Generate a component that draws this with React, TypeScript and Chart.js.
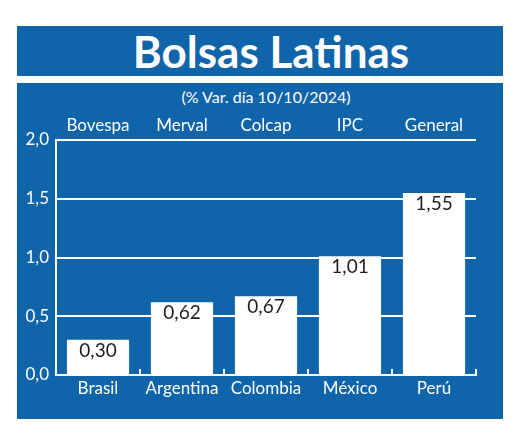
import { useEffect, useRef } from 'react';
import { Chart, registerables } from 'chart.js';

Chart.register(...registerables);

const countries = ['Brasil', 'Argentina', 'Colombia', 'México', 'Perú'];
const indices = ['Bovespa', 'Merval', 'Colcap', 'IPC', 'General'];
const values = [0.3, 0.62, 0.67, 1.01, 1.55];

const BLUE = '#1064aa';
const FONT = 'Lato, "Open Sans", sans-serif';

const fmt = (v: number, d: number) => v.toFixed(d).replace('.', ',');

// draws the value inside the top of each bar
const valueLabels = {
  id: 'valueLabels',
  afterDatasetsDraw(chart: Chart) {
    const ctx = chart.ctx;
    const meta = chart.getDatasetMeta(0);
    ctx.save();
    ctx.fillStyle = '#1e1e1e';
    ctx.font = '19px ' + FONT;
    ctx.textAlign = 'center';
    ctx.textBaseline = 'middle';
    meta.data.forEach((bar: any, i: number) => {
      ctx.fillText(fmt(values[i], 2), bar.x, bar.y + 11);
    });
    ctx.restore();
  },
};

export default function App() {
  const chartRef = useRef<HTMLCanvasElement>(null);
  const chartInstance = useRef<Chart | null>(null);

  useEffect(() => {
    if (!chartRef.current) return;
    if (chartInstance.current) chartInstance.current.destroy();

    chartInstance.current = new Chart(chartRef.current, {
      type: 'bar',
      data: {
        labels: countries,
        datasets: [
          {
            data: values,
            backgroundColor: '#ffffff',
            borderWidth: 0,
            barPercentage: 0.74,
            categoryPercentage: 1,
            xAxisID: 'x',
          },
        ],
      },
      options: {
        animation: false,
        responsive: false,
        maintainAspectRatio: false,
        layout: { padding: { left: 0, right: 27, top: 0, bottom: 0 } },
        plugins: {
          legend: { display: false },
          tooltip: { enabled: false },
        },
        scales: {
          x: {
            type: 'category',
            position: 'bottom',
            offset: true,
            grid: {
              offset: true,
              drawOnChartArea: false,
              color: '#ffffff',
              lineWidth: 2,
              tickLength: -6,
            },
            border: { color: '#ffffff', width: 2 },
            ticks: {
              color: '#ffffff',
              font: { family: FONT, size: 17 },
              padding: 9,
            },
            afterFit: (scale: any) => {
              scale.height = 44;
            },
          },
          x2: {
            type: 'category',
            position: 'top',
            labels: indices,
            offset: true,
            grid: { display: false, drawTicks: false },
            border: { display: false },
            ticks: {
              color: '#ffffff',
              font: { family: FONT, size: 17 },
              padding: 4,
            },
            afterFit: (scale: any) => {
              scale.height = 57;
            },
          },
          y: {
            min: 0,
            max: 2,
            grid: {
              color: '#ffffff',
              lineWidth: 2,
              drawTicks: false,
            },
            border: { color: '#ffffff', width: 2 },
            ticks: {
              stepSize: 0.5,
              color: '#ffffff',
              font: { family: FONT, size: 17 },
              padding: 7,
              callback: (v: any) => fmt(Number(v), 1),
            },
            afterFit: (scale: any) => {
              scale.width = 39;
            },
          },
        },
      },
      plugins: [valueLabels],
    });

    return () => {
      if (chartInstance.current) {
        chartInstance.current.destroy();
        chartInstance.current = null;
      }
    };
  }, []);

  return (
    <div
      style={{
        position: 'absolute',
        left: 0,
        top: 0,
        width: 520,
        height: 439,
        background: '#ffffff',
        fontFamily: FONT,
      }}
    >
      <div
        style={{
          position: 'absolute',
          left: 17,
          top: 26,
          width: 486,
          height: 50,
          background: BLUE,
          color: '#ffffff',
          textAlign: 'center',
          fontWeight: 700,
          fontSize: 44,
          lineHeight: '50px',
          paddingLeft: 22,
          boxSizing: 'border-box',
        }}
      >
        Bolsas Latinas
      </div>
      <div
        style={{
          position: 'absolute',
          left: 17,
          top: 83,
          width: 486,
          height: 336,
          background: BLUE,
        }}
      >
        <div
          style={{
            position: 'absolute',
            left: 0,
            top: 4,
            width: 486,
            paddingLeft: 12,
            boxSizing: 'border-box',
            textAlign: 'center',
            color: '#ffffff',
            fontSize: 16,
            lineHeight: '20px',
          }}
        >
          (% Var. día 10/10/2024)
        </div>
        <canvas
          ref={chartRef}
          width={486}
          height={336}
          style={{ position: 'absolute', left: 0, top: 0, width: 486, height: 336 }}
        />
      </div>
    </div>
  );
}
